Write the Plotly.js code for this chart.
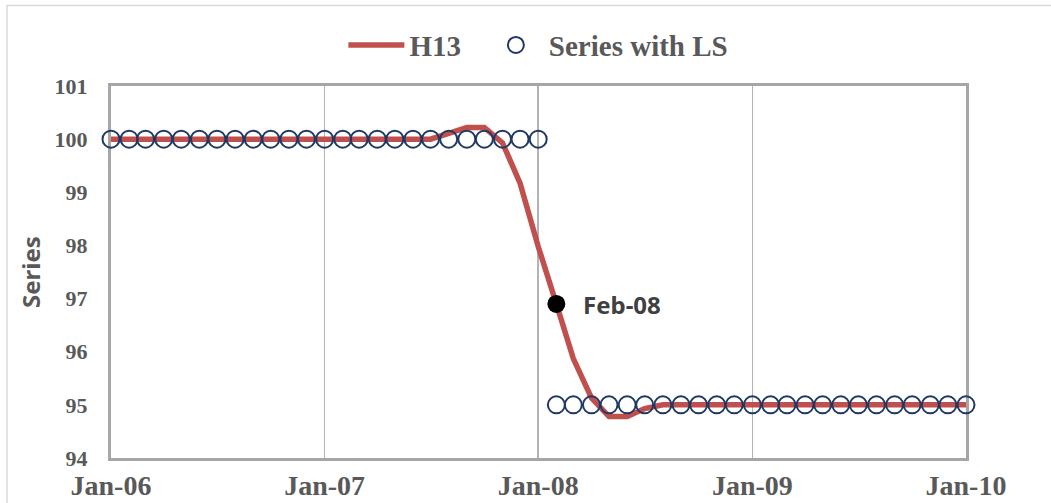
<!DOCTYPE html>
<html>
<head>
<meta charset="utf-8">
<script src="https://cdn.plot.ly/plotly-3.0.1.min.js"></script>
<style>
  html, body { margin: 0; padding: 0; background: #ffffff; }
  #chart { width: 1051px; height: 503px; }
</style>
</head>
<body>
<div id="chart"></div>
<script>
// Monthly dates Jan-06 .. Jan-10
const months = [
  "2006-01-01","2006-02-01","2006-03-01","2006-04-01","2006-05-01","2006-06-01",
  "2006-07-01","2006-08-01","2006-09-01","2006-10-01","2006-11-01","2006-12-01",
  "2007-01-01","2007-02-01","2007-03-01","2007-04-01","2007-05-01","2007-06-01",
  "2007-07-01","2007-08-01","2007-09-01","2007-10-01","2007-11-01","2007-12-01",
  "2008-01-01","2008-02-01","2008-03-01","2008-04-01","2008-05-01","2008-06-01",
  "2008-07-01","2008-08-01","2008-09-01","2008-10-01","2008-11-01","2008-12-01",
  "2009-01-01","2009-02-01","2009-03-01","2009-04-01","2009-05-01","2009-06-01",
  "2009-07-01","2009-08-01","2009-09-01","2009-10-01","2009-11-01","2009-12-01",
  "2010-01-01"
];

// H13 filtered series
const h13 = [
  100, 100, 100, 100, 100, 100, 100, 100, 100, 100, 100, 100,
  100, 100, 100, 100, 100, 100, 100, 100.11, 100.22, 100.22, 99.93, 99.17,
  97.98, 96.9, 95.87, 95.13, 94.78, 94.78, 94.93, 95.0, 95.0, 95.0, 95.0, 95.0,
  95.0, 95.0, 95.0, 95.0, 95.0, 95.0, 95.0, 95.0, 95.0, 95.0, 95.0, 95.0,
  95.0
];

// Series with level shift
const seriesLS = [
  100, 100, 100, 100, 100, 100, 100, 100, 100, 100, 100, 100,
  100, 100, 100, 100, 100, 100, 100, 100, 100, 100, 100, 100,
  100, 95, 95, 95, 95, 95, 95, 95, 95, 95, 95, 95,
  95, 95, 95, 95, 95, 95, 95, 95, 95, 95, 95, 95,
  95
];

// Highlighted point
const highlightDate = ["2008-02-01"];
const highlightValue = [96.9];
const highlightLabel = "Feb-08";

const SERIF = "'Liberation Serif', 'Times New Roman', Times, serif";
const SANS = "'Noto Sans', 'Open Sans', sans-serif";

const traces = [
  {
    x: months, y: h13, name: "<b>H13</b>&nbsp;&nbsp;\u200A", type: "scatter", mode: "lines",
    line: { color: "#c0504d", width: 5.5 },
    cliponaxis: false
  },
  {
    x: months, y: seriesLS, name: "<b>Series with LS</b>", type: "scatter", mode: "markers",
    marker: { symbol: "circle-open", size: 17, color: "#1f3864", line: { width: 2, color: "#1f3864" } },
    cliponaxis: false
  },
  {
    x: highlightDate, y: highlightValue, name: highlightLabel, type: "scatter", mode: "markers",
    marker: { symbol: "circle", size: 18, color: "#000000" },
    showlegend: false, cliponaxis: false
  }
];

const layout = {
  width: 1051, height: 503,
  font: { family: SERIF, size: 22, color: "#595959" },
  margin: { l: 110.5, r: 85, t: 86, b: 45, pad: 0 },
  paper_bgcolor: "#ffffff", plot_bgcolor: "#ffffff",
  showlegend: true,
  legend: {
    orientation: "h", x: 0.2718, xanchor: "left", y: 1.11, yanchor: "middle",
    font: { family: SERIF, size: 29, color: "#595959" },
    itemwidth: 56
  },
  xaxis: {
    type: "date",
    range: ["2006-01-01", "2010-01-01"],
    tick0: "2006-01-01", dtick: "M12", tickformat: "%b-%y",
    showgrid: true, gridcolor: "#b3b3b3", gridwidth: 1.5,
    showline: true, mirror: true, linecolor: "#a6a6a6", linewidth: 3,
    ticks: "", ticklabelstandoff: 0,
    tickfont: { family: SERIF, size: 28, color: "#595959", weight: 700 },
    zeroline: false, layer: "below traces",
    fixedrange: true
  },
  yaxis: {
    range: [94, 101], dtick: 1, tick0: 94,
    showgrid: false, zeroline: false,
    showline: true, mirror: true, linecolor: "#a6a6a6", linewidth: 3,
    ticks: "", ticklabelstandoff: 16,
    tickfont: { family: SERIF, size: 22, color: "#595959", weight: 700 },
    layer: "below traces",
    title: { text: "Series", font: { family: SANS, size: 24, color: "#595959", weight: 700 }, standoff: 8 },
    automargin: false, fixedrange: true
  },
  annotations: [
    {
      x: highlightDate[0], y: highlightValue[0], xref: "x", yref: "y",
      text: highlightLabel, showarrow: false, xanchor: "left", yanchor: "middle",
      xshift: 25, yshift: -1,
      font: { family: SANS, size: 24, color: "#404040", weight: 700 }
    }
  ],
  shapes: [
    {
      type: "rect", xref: "paper", yref: "paper",
      x0: -0.1216, x1: 1.12, y0: -0.2, y1: 1.2164,
      line: { color: "#d9d9d9", width: 1.5 }, fillcolor: "rgba(0,0,0,0)", layer: "below"
    }
  ]
};

Plotly.newPlot("chart", traces, layout, { displayModeBar: false, staticPlot: true });
</script>
</body>
</html>
